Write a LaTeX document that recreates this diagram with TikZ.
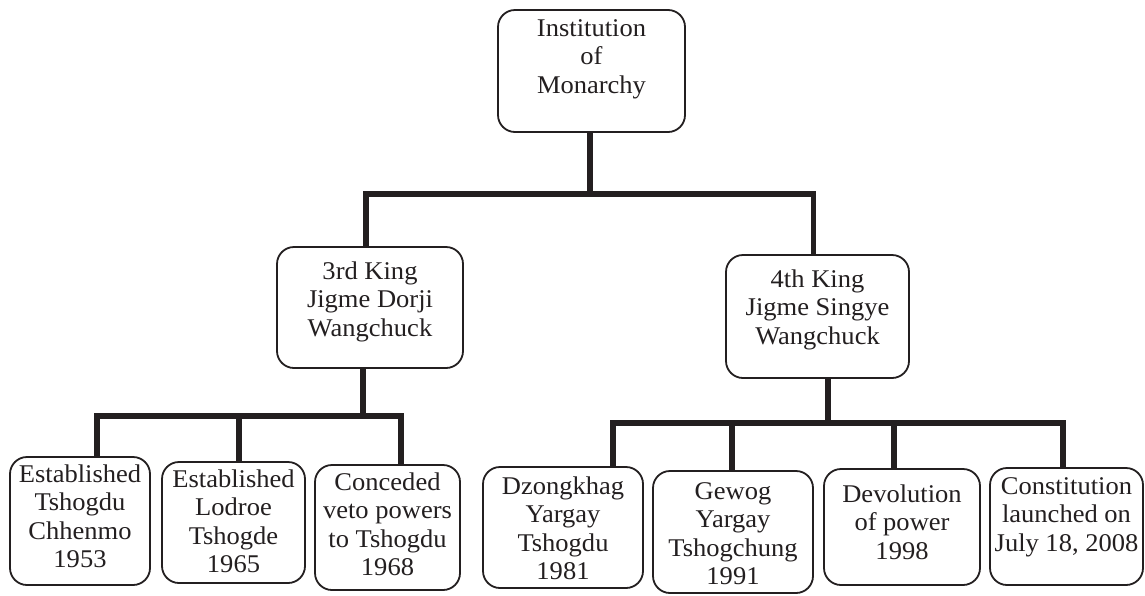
\documentclass[tikz,border=0pt]{standalone}
\usepackage{fontspec}
\setmainfont{Liberation Serif}[FakeStretch=1.04]
\begin{document}
\begin{tikzpicture}[x=1pt, y=-1pt,
  box/.style={draw=ink, line width=1.8pt, rounded corners=17pt, inner sep=0pt},
  txt/.style={align=center, inner sep=0pt, anchor=north, text=ink,
    font=\fontsize{25.5}{28.5}\selectfont},
  link/.style={draw=ink, line width=5.5pt}]
\definecolor{ink}{RGB}{35,31,32}
\fill[white] (0,0) rectangle (1145,595);
\useasboundingbox (0,0) rectangle (1145,595);

% boxes
\node[box, minimum width=187pt, minimum height=122pt] (top) at (591.5,71) {};
\node[box, minimum width=186pt, minimum height=121pt] (k3) at (370,307.5) {};
\node[box, minimum width=183pt, minimum height=123pt] (k4) at (817.5,316.5) {};
\node[box, minimum width=140pt, minimum height=128pt] (b1) at (80,521) {};
\node[box, minimum width=143pt, minimum height=121pt] (b2) at (233.5,522.5) {};
\node[box, minimum width=145pt, minimum height=125pt] (b3) at (387.5,527.5) {};
\node[box, minimum width=160pt, minimum height=121pt] (b4) at (563,527.5) {};
\node[box, minimum width=160pt, minimum height=122pt] (b5) at (733,532) {};
\node[box, minimum width=156pt, minimum height=116pt] (b6) at (902,527) {};
\node[box, minimum width=153pt, minimum height=117pt] (b7) at (1066.5,526.5) {};

% texts
\node[txt] (top-t) at ([yshift=-10pt]top.north) {Institution\\of\\Monarchy};
\node[txt] (k3-t) at ([yshift=-15pt]k3.north) {3rd King\\Jigme Dorji\\Wangchuck};
\node[txt] (k4-t) at ([yshift=-15pt]k4.north) {4th King\\Jigme Singye\\Wangchuck};
\node[txt] (b1-t) at ([yshift=-8pt]b1.north) {Established\\Tshogdu\\Chhenmo\\1953};
\node[txt] (b2-t) at ([yshift=-8pt]b2.north) {Established\\Lodroe\\Tshogde\\1965};
\node[txt] (b3-t) at ([yshift=-8pt]b3.north) {Conceded\\veto powers\\to Tshogdu\\1968};
\node[txt] (b4-t) at ([yshift=-10pt]b4.north) {Dzongkhag\\Yargay\\Tshogdu\\1981};
\node[txt] (b5-t) at ([yshift=-12pt]b5.north) {Gewog\\Yargay\\Tshogchung\\1991};
\node[txt] (b6-t) at ([yshift=-16pt]b6.north) {Devolution\\of power\\1998};
\node[txt] (b7-t) at ([yshift=-10pt]b7.north) {Constitution\\launched on\\July 18, 2008};

% bus lines
\coordinate (busA) at (0,194);
\coordinate (busL) at (0,416);
\coordinate (busR) at (0,423);

% connectors: monarchy to kings
\draw[link] ([xshift=-1.5pt]top.south) -- ([xshift=-1.5pt]top.south |- busA);
\draw[link] ([xshift=-4pt]k3.north) |- ([xshift=-4pt]k4.north |- busA) -- ([xshift=-4pt]k4.north);

% connectors: 3rd King
\draw[link] ([xshift=-7pt]k3.south) -- ([xshift=-7pt]k3.south |- busL);
\draw[link] ([xshift=17pt]b1.north) |- ([xshift=13.5pt]b3.north |- busL) -- ([xshift=13.5pt]b3.north);
\draw[link] ([xshift=5.5pt]b2.north) -- ([xshift=5.5pt]b2.north |- busL);

% connectors: 4th King
\draw[link] ([xshift=10.5pt]k4.south) -- ([xshift=10.5pt]k4.south |- busR);
\draw[link] ([xshift=50pt]b4.north) |- ([xshift=-3.5pt]b7.north |- busR) -- ([xshift=-3.5pt]b7.north);
\draw[link] ([xshift=-1pt]b5.north) -- ([xshift=-1pt]b5.north |- busR);
\draw[link] ([xshift=-8pt]b6.north) -- ([xshift=-8pt]b6.north |- busR);
\end{tikzpicture}
\end{document}
